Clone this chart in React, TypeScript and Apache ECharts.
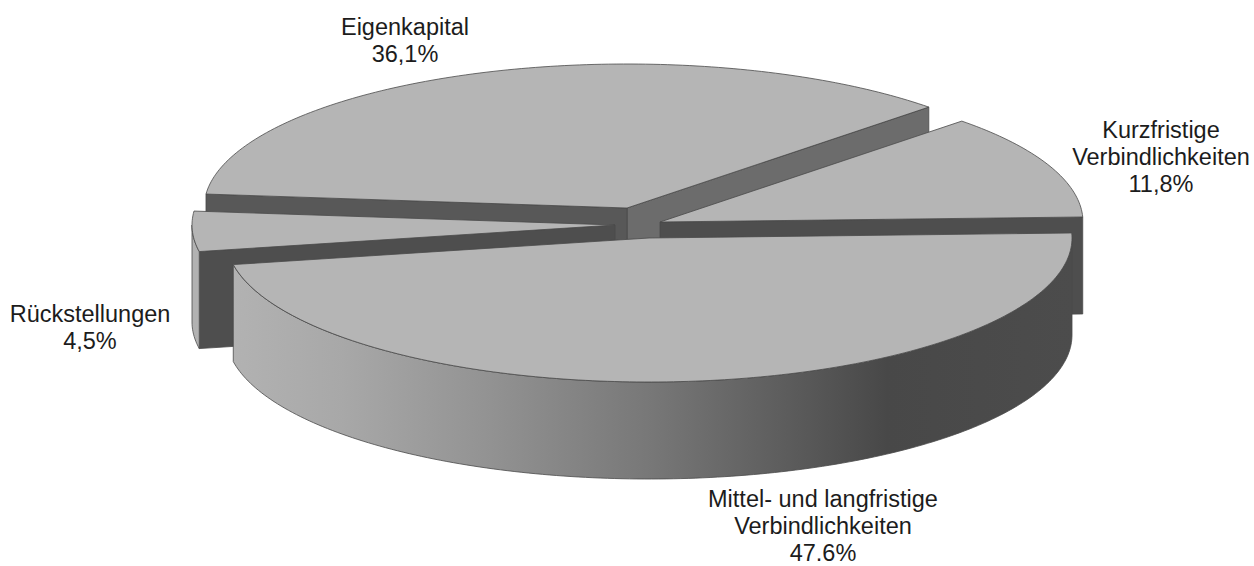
import React, { useEffect, useRef } from "react";
import * as echarts from "echarts";

// Data, in counter-clockwise order around the pie
const categories = ["Kurzfristige\nVerbindlichkeiten", "Eigenkapital", "Rückstellungen", "Mittel- und langfristige\nVerbindlichkeiten"];
const shares = [11.8, 36.1, 4.5, 47.6];
const shareLabels = ["11,8%", "36,1%", "4,5%", "47.6%"];

// Layout and style, kept apart from the data
const drawOrder = [1, 0, 2, 3];
const startAngle = 2;
const RX = 423;
const RY = 144;
const DEPTH = 97;
const apexX = [660, 627, 615, 649];
const apexY = [222, 208, 225, 238];
const labelX = [1161, 405, 90, 823];
const labelY = [116, 13, 300, 486];
const labelLineHeight = [27, 27, 27, 26.6];
const startFace = ["#4e4e4e", "#6c6c6c", "#4e4e4e", "#4e4e4e"];
const endFace = ["#4e4e4e", "#585858", "#4e4e4e", "#4e4e4e"];
const TOP = "#b5b5b5";
const EDGE = "#4a4a4a";

const rad = (d: number) => (d * Math.PI) / 180;

function spans() {
  const total = shares.reduce((a, b) => a + b, 0);
  let a = startAngle;
  return shares.map((s) => {
    const from = a;
    a += (s / total) * 360;
    return [from, a];
  });
}

function arc(cx: number, cy: number, from: number, to: number) {
  const pts: number[][] = [];
  const n = Math.max(2, Math.ceil(Math.abs(to - from)));
  for (let i = 0; i <= n; i++) {
    const t = rad(from + ((to - from) * i) / n);
    pts.push([cx + RX * Math.cos(t), cy - RY * Math.sin(t)]);
  }
  return pts;
}

export default function App() {
  const ref = useRef<HTMLDivElement>(null);
  useEffect(() => {
    const chart = echarts.init(ref.current!, null, { renderer: "svg" });
    const angles = spans();
    const wallGradient = new echarts.graphic.LinearGradient(
      233, 0, 1072, 0,
      [
        { offset: 0, color: "#b2b2b2" },
        { offset: 0.13, color: "#a8a8a8" },
        { offset: 0.3, color: "#939393" },
        { offset: 0.5, color: "#777777" },
        { offset: 0.65, color: "#5e5e5e" },
        { offset: 0.78, color: "#484848" },
        { offset: 1, color: "#4c4c4c" },
      ],
      true
    );
    const renderItem = (_params: any, api: any) => {
      const i = api.value(0) as number;
      const [from, to] = angles[i];
      const cx = apexX[i];
      const cy = apexY[i];
      const children: any[] = [];
      const poly = (points: number[][], fill: any, lw = 0.8) => ({
        type: "polygon",
        shape: { points },
        style: { fill, stroke: EDGE, lineWidth: lw },
        silent: true,
      });
      const face = (angle: number, fill: string) => {
        const t = rad(angle);
        const x = cx + RX * Math.cos(t);
        const y = cy - RY * Math.sin(t);
        return poly([[cx, cy], [x, y], [x, y + DEPTH], [cx, cy + DEPTH]], fill);
      };
      if (Math.cos(rad(from)) > 0) children.push(face(from, startFace[i]));
      if (Math.cos(rad(to)) < 0) children.push(face(to, endFace[i]));
      const wallFrom = Math.max(from, 180);
      const wallTo = Math.min(to, 360);
      if (wallTo > wallFrom) {
        const upper = arc(cx, cy, wallFrom, wallTo);
        const lower = upper.map(([x, y]) => [x, y + DEPTH]).reverse();
        children.push(poly(upper.concat(lower), wallGradient));
      }
      children.push(poly([[cx, cy], ...arc(cx, cy, from, to)], TOP));
      children.push({
        type: "text",
        silent: true,
        style: {
          x: labelX[i],
          y: labelY[i],
          text: categories[i] + "\n" + shareLabels[i],
          fill: "#1c1c1c",
          font: '23.5px "Liberation Sans", Arial, sans-serif',
          lineHeight: labelLineHeight[i],
          align: "center",
          verticalAlign: "top",
        },
      });
      return { type: "group", children };
    };
    chart.setOption({
      animation: false,
      backgroundColor: "#ffffff",
      series: [
        {
          type: "custom",
          coordinateSystem: "none",
          silent: true,
          data: drawOrder.map((i) => [i, shares[i]]),
          encode: { value: [0, 1] },
          renderItem,
        },
      ],
    });
    return () => chart.dispose();
  }, []);
  return <div ref={ref} style={{ position: "fixed", left: 0, top: 0, width: 1254, height: 566 }} />;
}
